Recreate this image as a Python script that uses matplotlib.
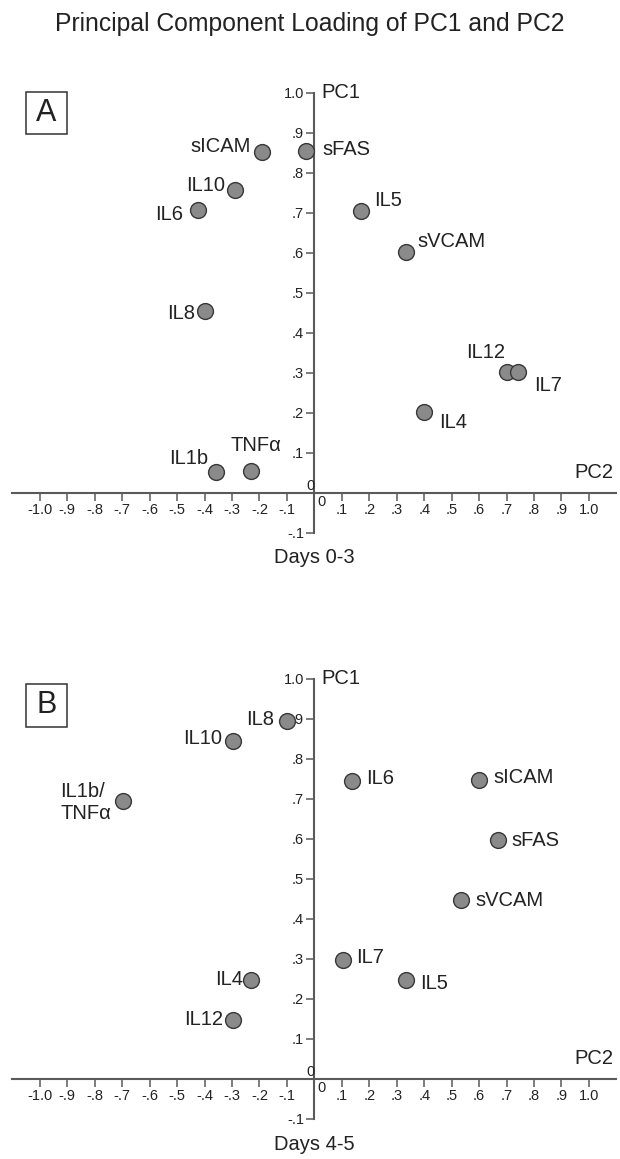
import matplotlib
matplotlib.use("Agg")
import matplotlib.pyplot as plt
from matplotlib.patches import Rectangle

plt.rcParams['font.family'] = ['Liberation Sans', 'DejaVu Sans']

# Days 0-3 loadings (PC2 on x, PC1 on y)
names_a = ["sICAM", "sFAS", "IL10", "IL6", "IL5", "sVCAM", "IL8",
           "IL12", "IL7", "IL4", "IL1b", "TNFα"]
pc2_a = [-0.19, -0.03, -0.288, -0.425, 0.17, 0.335, -0.40, 0.70, 0.74, 0.40, -0.36, -0.23]
pc1_a = [0.852, 0.853, 0.756, 0.706, 0.705, 0.602, 0.453, 0.301, 0.301, 0.202, 0.051, 0.055]

# Days 4-5 loadings
names_b = ["IL8", "IL10", "IL1b/\nTNFα", "IL6", "sICAM", "sFAS", "sVCAM",
           "IL7", "IL5", "IL4", "IL12"]
pc2_b = [-0.10, -0.296, -0.696, 0.138, 0.599, 0.668, 0.535, 0.104, 0.335, -0.23, -0.296]
pc1_b = [0.896, 0.845, 0.694, 0.746, 0.748, 0.597, 0.447, 0.298, 0.247, 0.247, 0.148]

xticks = [-1.0, -0.9, -0.8, -0.7, -0.6, -0.5, -0.4, -0.3, -0.2, -0.1,
          0.1, 0.2, 0.3, 0.4, 0.5, 0.6, 0.7, 0.8, 0.9, 1.0]
xticklabels = ["-1.0", "-.9", "-.8", "-.7", "-.6", "-.5", "-.4", "-.3", "-.2", "-.1",
               ".1", ".2", ".3", ".4", ".5", ".6", ".7", ".8", ".9", "1.0"]
yticks = [-0.1, 0.1, 0.2, 0.3, 0.4, 0.5, 0.6, 0.7, 0.8, 0.9, 1.0]
yticklabels = ["-.1", ".1", ".2", ".3", ".4", ".5", ".6", ".7", ".8", ".9", "1.0"]

# label placement: (dx px, dy px, ha)
place_a = {
    "sICAM": (-11, 5, "right"), "sFAS": (16, 2, "left"), "IL10": (-10, 5, "right"),
    "IL6": (-15, -4, "right"), "IL5": (13, 10, "left"), "sVCAM": (11, 10, "left"),
    "IL8": (-9, -2, "right"), "IL12": (-21, 20, "center"), "IL7": (17, -13, "left"),
    "IL4": (15, -11, "left"), "IL1b": (-7, 14, "right"), "TNFα": (5, 25, "center"),
}
place_b = {
    "IL8": (-13, 1, "right"), "IL10": (-11, 2, "right"), "IL1b/\nTNFα": (-12, -1, "right"),
    "IL6": (14, 2, "left"), "sICAM": (15, 2, "left"), "sFAS": (14, 0, "left"),
    "sVCAM": (14, 0, "left"), "IL7": (13, 2, "left"), "IL5": (14, -3, "left"),
    "IL4": (-8, 1, "right"), "IL12": (-10, 0, "right"),
}

TXT = "#222222"
AXC = "#5a5a5a"
W, H = 620, 1159

fig = plt.figure(figsize=(6.2, 11.59), dpi=100)
fig.text(0.5, 1 - 31 / H, "Principal Component Loading of PC1 and PC2",
         ha="center", va="baseline", fontsize=17.8, color=TXT)


def panel(rect, names, xs, ys, place, letter, days, box_top):
    ax = fig.add_axes(rect)
    ax.set_xlim(-1.1, 1.1)
    ax.set_ylim(-0.1, 1.0)
    for s in ("top", "right"):
        ax.spines[s].set_visible(False)
    for s in ("left", "bottom"):
        ax.spines[s].set_position(("data", 0))
        ax.spines[s].set_color(AXC)
        ax.spines[s].set_linewidth(1.5)
    ax.set_xticks(xticks)
    ax.set_xticklabels(xticklabels)
    ax.set_yticks(yticks)
    ax.set_yticklabels(yticklabels)
    ax.tick_params(direction="out", length=5.5, width=1.1, color=AXC,
                   labelsize=10.5, labelcolor=TXT, pad=2)
    ax.patch.set_visible(False)

    ax.scatter(xs, ys, s=130, c="#8a8a8a", edgecolors="#383838", linewidths=1.0,
               zorder=3, clip_on=False)
    for n, x, y in zip(names, xs, ys):
        dx, dy, ha = place[n]
        ax.annotate(n, (x, y), xytext=(dx, dy), textcoords="offset pixels",
                    ha=ha, va="center", fontsize=14.5, color=TXT,
                    multialignment="left", annotation_clip=False)

    ax.text(0.026, 1.0, "PC1", ha="left", va="center", fontsize=14.5, color=TXT)
    ax.text(1.09, 0.05, "PC2", ha="right", va="center", fontsize=14.5, color=TXT)
    ax.text(0.027, -0.023, "0", ha="center", va="center", fontsize=10.5, color=TXT)
    ax.text(-0.016, 0.017, "0", ha="center", va="center", fontsize=10.5, color=TXT)
    ax.text(0.0, -0.163, days, ha="center", va="center", fontsize=14.5, color=TXT,
            clip_on=False)

    # letter box
    bx, bw, bh = 25.7, 41, 42.5
    fig.add_artist(Rectangle((bx / W, 1 - (box_top + bh) / H), bw / W, bh / H,
                             transform=fig.transFigure, fc="white", ec="#333333", lw=1.1))
    fig.text((bx + bw / 2) / W, 1 - (box_top + bh / 2) / H, letter, ha="center",
             va="center", fontsize=22, color=TXT)
    return ax


panel([12.4 / W, 1 - 532.5 / H, 604 / W, 440 / H],
      names_a, pc2_a, pc1_a, place_a, "A", "Days 0-3", 91.7)
panel([12.4 / W, 1 - 1119 / H, 604 / W, 440 / H],
      names_b, pc2_b, pc1_b, place_b, "B", "Days 4-5", 684)

fig.savefig("out.png", dpi=100)
